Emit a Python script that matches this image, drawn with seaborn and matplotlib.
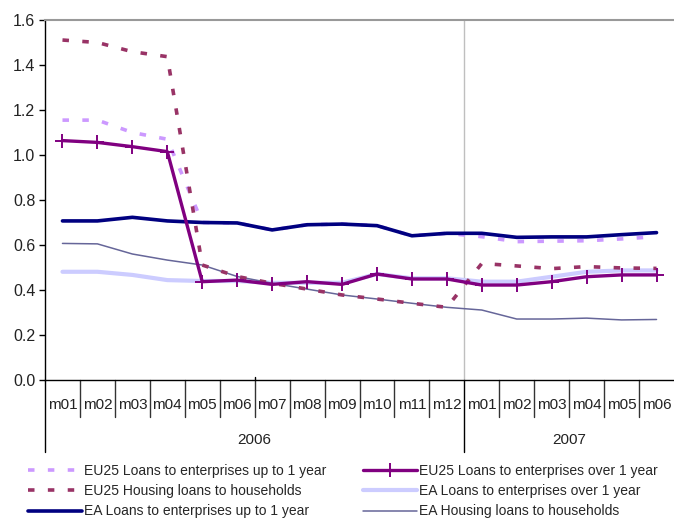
import matplotlib
matplotlib.use("Agg")
import matplotlib.pyplot as plt
import matplotlib.transforms as mtransforms
from matplotlib.lines import Line2D
import seaborn as sns
import numpy as np

# ---- data ----
months = ["m01", "m02", "m03", "m04", "m05", "m06", "m07", "m08", "m09", "m10", "m11", "m12",
          "m01", "m02", "m03", "m04", "m05", "m06"]
years = ["2006", "2007"]
year_sizes = [12, 6]

eu25_ent_short = [1.155, 1.155, 1.10, 1.07, 0.70, 0.698, 0.667, 0.69, 0.693, 0.686, 0.641, 0.652,
                  0.637, 0.615, 0.617, 0.619, 0.627, 0.637]
eu25_ent_long = [1.064, 1.056, 1.037, 1.015, 0.437, 0.444, 0.425, 0.437, 0.425, 0.471, 0.449, 0.449,
                 0.422, 0.422, 0.437, 0.459, 0.467, 0.467]
eu25_housing = [1.511, 1.50, 1.459, 1.437, 0.511, 0.46, 0.43, 0.404, 0.378, 0.36, 0.341, 0.323,
                0.518, 0.507, 0.495, 0.504, 0.498, 0.496]
ea_ent_short = [0.707, 0.707, 0.723, 0.707, 0.70, 0.698, 0.667, 0.69, 0.693, 0.686, 0.641, 0.652,
                0.652, 0.634, 0.636, 0.636, 0.646, 0.655]
ea_ent_long = [0.481, 0.481, 0.467, 0.444, 0.44, 0.44, 0.432, 0.432, 0.432, 0.471, 0.452, 0.452,
               0.437, 0.437, 0.459, 0.481, 0.487, 0.487]
ea_housing = [0.607, 0.605, 0.56, 0.533, 0.511, 0.46, 0.43, 0.404, 0.378, 0.36, 0.341, 0.323,
              0.311, 0.271, 0.271, 0.275, 0.267, 0.269]

labels = ["EU25 Loans to enterprises up to 1 year",
          "EU25 Loans to enterprises over 1 year",
          "EU25 Housing loans to households",
          "EA Loans to enterprises over 1 year",
          "EA Loans to enterprises up to 1 year",
          "EA Housing loans to households"]

# ---- style ----
sns.set_theme(style="white")
plt.rcParams['font.family'] = ['Liberation Sans', 'DejaVu Sans']

C_LPURP = "#CC99FF"
C_PURP = "#800080"
C_HOUS = "#993366"
C_LAV = "#CCCCFF"
C_NAVY = "#000080"
C_SLATE = "#666699"

fig = plt.figure(figsize=(6.74, 5.18), dpi=100)
W, H = 674, 518
ax = fig.add_axes([45 / W, 1 - 380 / H, 629 / W, 360 / H])
x = np.arange(len(months))

ax.axvline(11.5, color="#BFBFBF", lw=1, zorder=0.5)

DLW = 2.6
dot = (0, (1.8, 3.7))
sns.lineplot(x=x, y=ea_ent_long, ax=ax, color=C_LAV, lw=3.0, sort=False, zorder=2)
sns.lineplot(x=x, y=ea_housing, ax=ax, color=C_SLATE, lw=1.1, sort=False, zorder=3)
sns.lineplot(x=x, y=eu25_ent_short, ax=ax, color=C_LPURP, lw=DLW, linestyle=dot, sort=False, zorder=3)
sns.lineplot(x=x, y=eu25_housing, ax=ax, color=C_HOUS, lw=DLW, linestyle=dot, sort=False, zorder=4)
sns.lineplot(x=x, y=ea_ent_short, ax=ax, color=C_NAVY, lw=2.6, sort=False, zorder=5)
sns.lineplot(x=x, y=eu25_ent_long, ax=ax, color=C_PURP, lw=2.4, marker="+", markersize=10,
             markeredgewidth=1.4, markeredgecolor=C_PURP, sort=False, zorder=6)

ax.set_xlim(-0.5, len(months) - 0.5)
ax.set_ylim(0, 1.6)
ax.set_yticks(np.arange(0, 1.61, 0.2))
ax.set_yticklabels([f"{v:.1f}" for v in np.arange(0, 1.61, 0.2)], fontsize=11.5, color="#222222")
ax.set_xticks([])
ax.set_xlabel("")
ax.set_ylabel("")
ax.tick_params(axis="y", direction="out", length=4, width=1, color="black", pad=3, left=True)

for s in ["left", "bottom"]:
    ax.spines[s].set_color("black")
    ax.spines[s].set_linewidth(1.0)
ax.spines["top"].set_color("#999999")
ax.spines["top"].set_linewidth(1.5)
ax.spines["right"].set_visible(False)

# category axis decorations
trans = mtransforms.blended_transform_factory(ax.transData, ax.transAxes)
boundaries = [0]
for n in year_sizes:
    boundaries.append(boundaries[-1] + n)
for i in range(len(months)):
    xpos = i - 0.5
    y_end = -72 / 360 if i in boundaries else -37 / 360
    ax.plot([xpos, xpos], [0, y_end], transform=trans, color="#333333" if i not in boundaries else "black",
            lw=1, clip_on=False)
for i, m in enumerate(months):
    ax.text(i, -25 / 360, m, transform=trans, ha="center", va="center", fontsize=11, color="#222222")
start = 0
for yr, n in zip(years, year_sizes):
    ax.text(start + n / 2 - 0.5, -60 / 360, yr, transform=trans, ha="center", va="center",
            fontsize=11, color="#222222")
    start += n
ax.plot([5.5, 5.5], [0, 3 / 360], transform=trans, color="black", lw=1, clip_on=False)

# legend
h_eu_short = Line2D([], [], color=C_LPURP, lw=DLW, linestyle=dot)
h_eu_long = Line2D([], [], color=C_PURP, lw=2.4, marker="+", markersize=10, markeredgewidth=1.4)
h_eu_hous = Line2D([], [], color=C_HOUS, lw=DLW, linestyle=dot)
h_ea_long = Line2D([], [], color=C_LAV, lw=3.0)
h_ea_short = Line2D([], [], color=C_NAVY, lw=2.6)
h_ea_hous = Line2D([], [], color=C_SLATE, lw=1.1)
handles = [h_eu_short, h_eu_hous, h_ea_short, h_eu_long, h_ea_long, h_ea_hous]
leg_labels = [labels[0], labels[2], labels[4], labels[1], labels[3], labels[5]]
fig.legend(handles, leg_labels, loc="upper left", bbox_to_anchor=(28 / W, 1 - 464 / H), ncol=2,
           frameon=False, fontsize=10, handlelength=3.9, handletextpad=0.15, labelspacing=0.45,
           columnspacing=2.6, numpoints=1, borderaxespad=0, borderpad=0)

fig.savefig("out.png", dpi=100)
